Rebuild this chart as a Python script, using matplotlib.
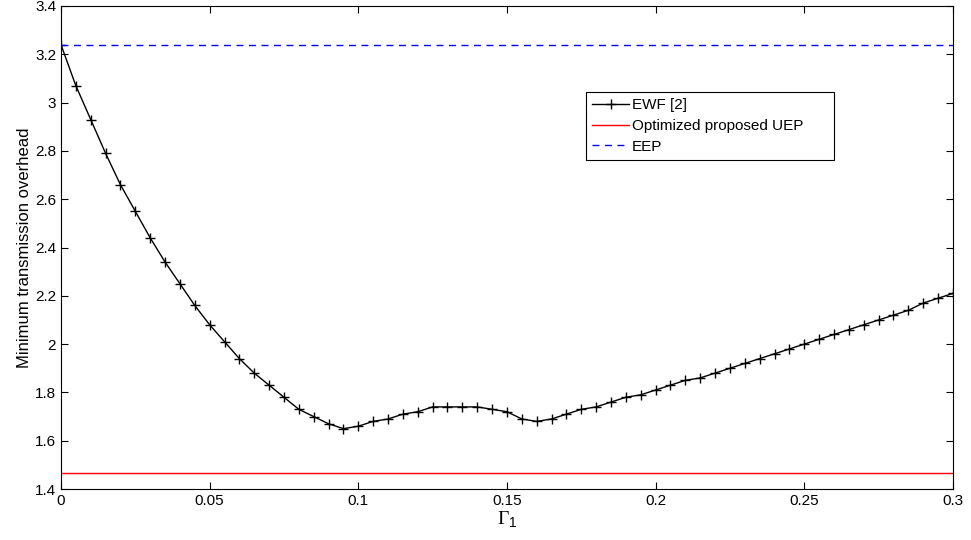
import numpy as np
import matplotlib.pyplot as plt

plt.rcParams['font.family'] = ['Liberation Sans', 'DejaVu Sans']
plt.rcParams['mathtext.fontset'] = 'custom'
plt.rcParams['mathtext.rm'] = 'Liberation Serif'
plt.rcParams['mathtext.sf'] = 'Liberation Sans'
plt.rcParams['mathtext.it'] = 'Liberation Sans'

# datos
gamma1 = np.round(np.arange(0, 0.3001, 0.005), 3)
ewf = [3.24, 3.07, 2.93, 2.79, 2.66, 2.55, 2.44, 2.34, 2.25, 2.16,
       2.08, 2.01, 1.94, 1.88, 1.83, 1.78, 1.73, 1.70, 1.67, 1.65,
       1.66, 1.68, 1.69, 1.71, 1.72, 1.74, 1.74, 1.74, 1.74, 1.73,
       1.72, 1.69, 1.68, 1.69, 1.71, 1.73, 1.74, 1.76, 1.78, 1.79,
       1.81, 1.83, 1.85, 1.86, 1.88, 1.90, 1.92, 1.94, 1.96, 1.98,
       2.00, 2.02, 2.04, 2.06, 2.08, 2.10, 2.12, 2.14, 2.17, 2.19,
       2.21]
uep_opt = 1.465
eep = 3.24

fig = plt.figure(figsize=(9.71, 5.4), dpi=100)
ax = fig.add_axes([0.0628, 0.0944, 0.9186, 0.8945])

ax.plot(gamma1, ewf, color='black', lw=1, marker='+', ms=6.5, mew=1, label='EWF [2]')
ax.axhline(uep_opt, color='red', lw=1, label='Optimized proposed UEP')
ax.axhline(eep, color='blue', lw=1, ls=(0, (5, 4)), label='EEP')

ax.set_xlim(0, 0.3)
ax.set_ylim(1.4, 3.4)
ax.set_xticks([0, 0.05, 0.1, 0.15, 0.2, 0.25, 0.3])
ax.set_xticklabels(['0', '0.05', '0.1', '0.15', '0.2', '0.25', '0.3'])
ax.set_yticks(np.arange(1.4, 3.41, 0.2))
ax.set_yticklabels(['1.4', '1.6', '1.8', '2', '2.2', '2.4', '2.6', '2.8', '3', '3.2', '3.4'])
ax.tick_params(direction='in', top=True, right=True, labelsize=11, length=5, width=0.8)
ax.set_xlabel(r'$\Gamma_{\mathsf{1}}$', fontsize=14, labelpad=1)
ax.set_ylabel('Minimum transmission overhead', fontsize=12, labelpad=2)

# caja de leyenda estilo MATLAB (mas ancha que el texto)
leg = ax.legend(loc='upper left', bbox_to_anchor=(0.589, 0.677, 0.278, 0.145),
                mode='expand', numpoints=1,
                fancybox=False, edgecolor='black', framealpha=1, fontsize=11,
                handlelength=2.4, handletextpad=0.2, borderpad=0.4, labelspacing=0.45,
                borderaxespad=0)
leg.get_frame().set_linewidth(0.8)

plt.savefig('out.png', dpi=100)
